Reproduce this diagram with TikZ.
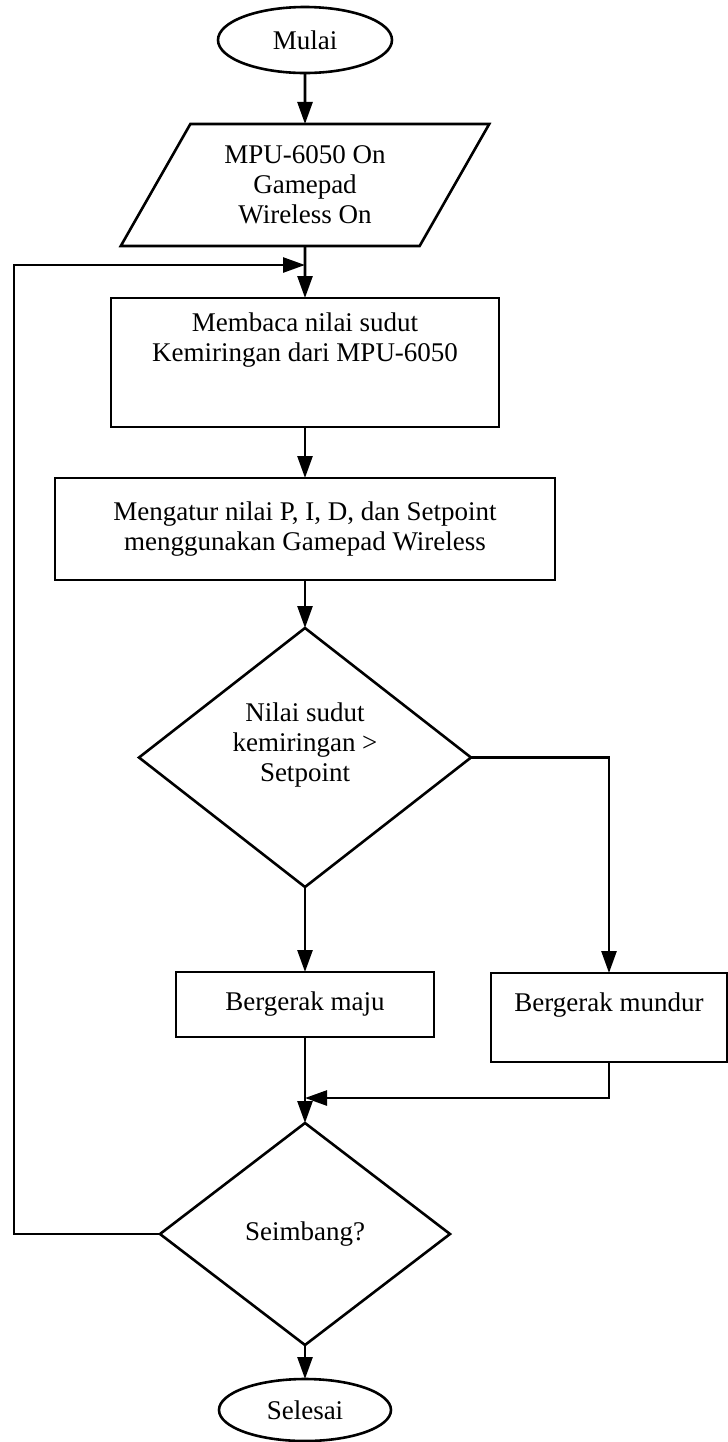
\documentclass[tikz,border=0pt]{standalone}
\usepackage{fontspec}
\setmainfont{Liberation Serif}
\usepackage{tikz}
\usetikzlibrary{shapes.geometric,arrows.meta}
\tikzset{
  line/.style={draw=black, line width=1.3pt},
  arr/.style={line, -{Triangle[length=11pt,width=7.5pt]}},
  terminal/.style={ellipse, draw, line width=1.3pt, inner sep=0pt, outer sep=0pt},
  io/.style={trapezium, trapezium left angle=58, trapezium right angle=122,
    trapezium stretches, draw, line width=1.3pt, inner sep=0pt, outer sep=0pt, align=center},
  proc/.style={rectangle, draw, line width=1.3pt, inner sep=0pt, outer sep=0pt, align=center},
  decision/.style={diamond, draw, line width=1.3pt, inner sep=0pt, outer sep=0pt, align=center},
  every node/.style={font=\fontsize{13.5}{15}\selectfont}
}

\begin{document}
\begin{tikzpicture}[x=0.5pt, y=-0.5pt]
  \useasboundingbox (0,0) rectangle (728,1442);

  % main column
  \node[terminal, minimum width=87pt, minimum height=33pt] (mulai) at (305,40) {Mulai};
  \node[io, minimum width=184.5pt, minimum height=61pt] (input) at (305,185)
    {MPU-6050 On\\Gamepad\\Wireless On};
  \node[proc, minimum width=194pt, minimum height=64.5pt] (baca) at (305,362.5)
    {Membaca nilai sudut\\Kemiringan dari MPU-6050\\[6pt]\strut};
  \node[proc, minimum width=250pt, minimum height=51pt] (atur) at (305,529)
    {Mengatur nilai P, I, D, dan Setpoint\\menggunakan Gamepad Wireless};
  \node[decision, minimum width=166pt, minimum height=129.5pt] (cek) at (305,757.5)
    {Nilai sudut\\kemiringan >\\Setpoint\\\mbox{}};
  \node[proc, minimum width=129pt, minimum height=32.5pt] (maju) at (305,1004.5) {Bergerak maju};
  \node[proc, minimum width=118pt, minimum height=44.5pt] (mundur) at (609,1017.5)
    {Bergerak mundur\\\mbox{}};
  \node[decision, minimum width=145pt, minimum height=111pt] (seimbang) at (305,1234) {Seimbang?};
  \node[terminal, minimum width=86pt, minimum height=31pt] (selesai) at (305,1410) {Selesai};

  \coordinate (gabung) at (305,1098);
  \coordinate (balik) at (14,265);
  \coordinate (masuk) at (305,265);

  % connectors
  \draw[arr] (mulai) -- (input);
  \draw[arr] (input) -- (baca);
  \draw[arr] (baca) -- (atur);
  \draw[arr] (atur) -- (cek);
  \draw[arr] (cek) -- (maju);
  \draw[arr] (cek.east) -| (mundur.north);
  \draw[arr] (maju) -- (seimbang);
  \draw[arr] (mundur.south) |- (gabung);
  \draw[arr] (seimbang) -- (selesai);
  \draw[arr] (seimbang.west) -| (balik) -- (masuk);
\end{tikzpicture}
\end{document}
